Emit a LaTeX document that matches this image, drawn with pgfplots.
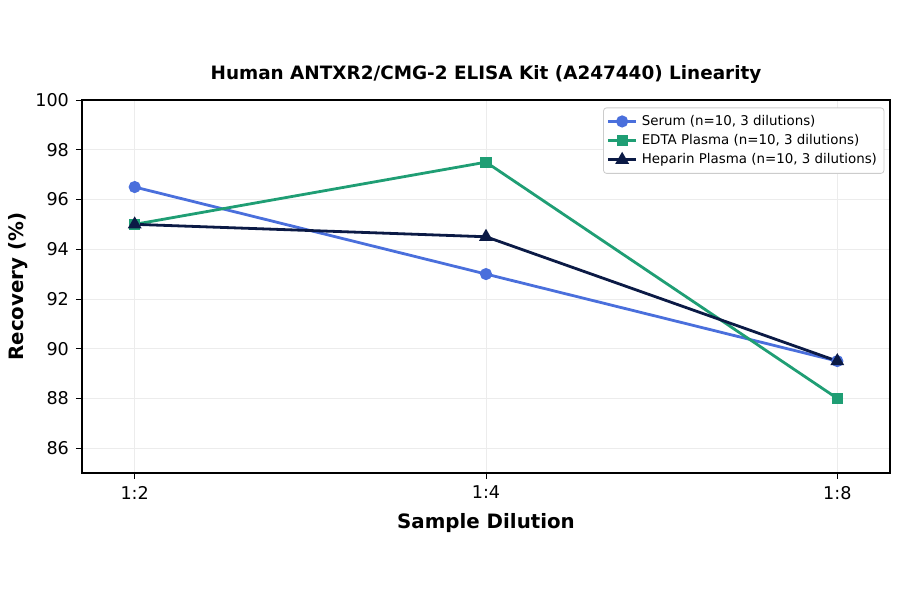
\documentclass[border=0pt]{standalone}
\usepackage{pgfplots}
\pgfplotsset{compat=1.18}
\usepackage{fontspec}
\setmainfont{DejaVu Sans}
\definecolor{serum}{HTML}{4A6FDC}
\definecolor{edta}{HTML}{1F9E74}
\definecolor{heparin}{HTML}{0B1A45}
\begin{document}
\begin{tikzpicture}[x=1pt,y=1pt]
  % full figure canvas (900x594 px at 0.5pt per px)
  \path[use as bounding box] (0,0) rectangle (450,297);
  \begin{axis}[
      at={(41pt,60.5pt)}, anchor=south west,
      scale only axis,
      width=404pt, height=186.5pt,
      xmin=-0.15, xmax=2.15,
      ymin=85, ymax=100,
      xtick={0,1,2},
      xticklabels={1:2,1:4,1:8},
      ytick={86,88,...,100},
      xtick pos=bottom, ytick pos=left,
      tick label style={font=\fontsize{8.8}{10}\selectfont},
      /pgf/number format/assume math mode=true,
      tick align=outside,
      major tick length=3pt,
      tick style={black, line width=0.4pt},
      axis line style={line width=0.6pt},
      grid=major,
      grid style={gray!15, line width=0.4pt},
      xlabel={\textbf{Sample Dilution}},
      ylabel={\textbf{Recovery (\%)}},
      label style={font=\fontsize{9.9}{12}\selectfont},
      ylabel style={yshift=-3pt},
      title={\textbf{Human ANTXR2/CMG-2 ELISA Kit (A247440) Linearity}},
      title style={font=\fontsize{9.2}{11}\selectfont, yshift=-1.5pt},
      legend style={at={(0.993,0.98)}, anchor=north east,
        font=\fontsize{6.7}{8}\selectfont,
        draw=gray!40, rounded corners=1.5pt,
        row sep=-1pt, inner sep=1.5pt},
      legend cell align=left,
      legend image code/.code={
        \draw[mark repeat=2,mark phase=2]
          plot coordinates {(0cm,0cm) (0.25cm,0cm) (0.5cm,0cm)};
      },
    ]
    \addplot[serum, line width=1.4pt, mark=*, mark size=2.3pt]
      coordinates {(0,96.5) (1,93.0) (2,89.5)};
    \addplot[edta, line width=1.4pt, mark=square*, mark size=2.1pt]
      coordinates {(0,95.0) (1,97.5) (2,88.0)};
    \addplot[heparin, line width=1.4pt, mark=triangle*, mark size=2.6pt]
      coordinates {(0,95.0) (1,94.5) (2,89.5)};
    \legend{{Serum (n=10, 3 dilutions)},{EDTA Plasma (n=10, 3 dilutions)},{Heparin Plasma (n=10, 3 dilutions)}}
  \end{axis}
\end{tikzpicture}
\end{document}
